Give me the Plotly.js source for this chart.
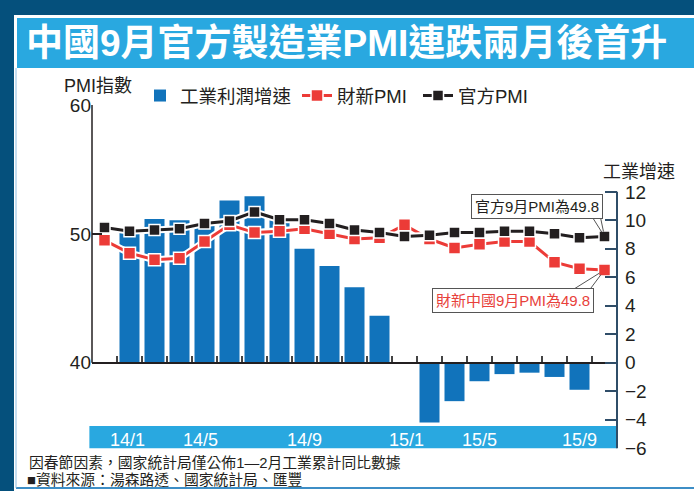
<!DOCTYPE html>
<html><head><meta charset="utf-8">
<script src="https://cdn.plot.ly/plotly-3.0.1.min.js"></script>
<style>html,body{margin:0;padding:0;background:#05507c;}#chart{width:694px;height:491px;}</style>
</head><body><div id="chart"></div>
<script>
// ---- data ----
const months = ['14/1','14/2','14/3','14/4','14/5','14/6','14/7','14/8','14/9','14/10','14/11','14/12',
                '15/1','15/2','15/3','15/4','15/5','15/6','15/7','15/8','15/9'];
const officialPMI = [50.5,50.2,50.3,50.4,50.8,51.0,51.7,51.1,51.1,50.8,50.3,50.1,
                     49.8,49.9,50.1,50.1,50.2,50.2,50.0,49.7,49.8];
const caixinPMI   = [49.5,48.5,48.0,48.1,49.4,50.7,50.1,50.2,50.4,50.0,49.6,49.7,
                     50.7,49.6,48.9,49.2,49.4,49.4,47.8,47.3,47.2];
const profitMonths = ['14/2','14/3','14/4','14/5','14/6','14/7','14/8','14/9','14/10','14/11','14/12',
                      '15/2','15/3','15/4','15/5','15/6','15/7','15/8'];
const profitGrowth = [9.4,10.1,10.0,9.8,11.4,11.7,10.0,8.0,6.8,5.3,3.3,
                      -4.2,-2.7,-1.3,-0.8,-0.7,-1.0,-1.9];
const tickLabels = ['14/1','14/5','14/9','15/1','15/5','15/9'];
const rightTicks = [-6,-4,-2,0,2,4,6,8,10,12];
const leftTicks = [40,50,60];

// ---- layout geometry ----
const L=92, R=617, T=105, B=449;
const pxX = x => (x-L)/(R-L);
const pxY = y => (B-y)/(B-T);
const tickLabelPos = [0.92,3.84,8,12.08,15,19];
const idx = months.map((m,i)=>i);
const barX = profitMonths.map(m=>months.indexOf(m));
const bounds = months.slice(0,-1).map((m,i)=>i+0.5);
const yR = [-6.06, 18.1];
const base = -yR[0]/(yR[1]-yR[0]);
const y2R = [40 - base*20/(1-base), 60];
const last = months.length-1;

const FONT = 'Liberation Sans, Arial, Noto Sans CJK TC, sans-serif';
const INK = '#231f20';
const RED = '#ec3b37';
const BLUE = '#1173bb';
const CYAN = '#29a8e0';

const traces = [
  {type:'bar', x:barX, y:profitGrowth, xaxis:'x', yaxis:'y', name:'工業利潤增速', legend:'legend',
   marker:{color:BLUE}, width:0.8, hoverinfo:'skip'},
  {type:'scatter', mode:'lines', x:idx, y:caixinPMI, xaxis:'x', yaxis:'y2', showlegend:false,
   line:{color:'white', width:7}, hoverinfo:'skip'},
  {type:'scatter', mode:'lines+markers', x:idx, y:caixinPMI, xaxis:'x', yaxis:'y2', name:'財新PMI',
   legend:'legend2',
   line:{color:RED, width:3}, marker:{symbol:'square', size:12, color:RED, line:{color:'white', width:1.5}}},
  {type:'scatter', mode:'lines', x:idx, y:officialPMI, xaxis:'x', yaxis:'y2', showlegend:false,
   line:{color:'white', width:7}, hoverinfo:'skip'},
  {type:'scatter', mode:'lines+markers', x:idx, y:officialPMI, xaxis:'x', yaxis:'y2', name:'官方PMI',
   legend:'legend3',
   line:{color:INK, width:3}, marker:{symbol:'square', size:11, color:INK, line:{color:'white', width:1.5}}},
  {type:'scatter', mode:'markers', x:[], y:[], xaxis:'x2', yaxis:'y', showlegend:false}
];

const shapes = [
  {type:'rect', xref:'paper', yref:'paper', x0:pxX(14), x1:pxX(700), y0:pxY(500), y1:pxY(15),
   fillcolor:'white', line:{width:0}, layer:'below'},
  {type:'rect', xref:'paper', yref:'paper', x0:pxX(17), x1:pxX(700), y0:pxY(68), y1:pxY(18),
   fillcolor:CYAN, line:{width:0}, layer:'below'},
  {type:'line', xref:'paper', yref:'paper', x0:pxX(16), x1:pxX(700), y0:pxY(488), y1:pxY(488),
   line:{color:'#3d8ec6', width:2}, layer:'below'},
  {type:'line', xref:'paper', yref:'paper', x0:pxX(16), x1:pxX(16), y0:pxY(68), y1:pxY(488),
   line:{color:'#8dbde2', width:1}, layer:'below'},
  {type:'rect', xref:'paper', yref:'y', x0:-0.005, x1:1, y0:-6, y1:-4.45,
   fillcolor:CYAN, line:{width:0}, layer:'below'},
  {type:'line', xref:'paper', yref:'y2', x0:0, x1:0, y0:40, y1:60, line:{color:INK, width:1.5}},
  {type:'line', xref:'paper', yref:'y', x0:1, x1:1, y0:-6, y1:12, line:{color:'#2f4d68', width:2}}
];

const boxFont = {family:FONT, size:15, color:INK};
const annotations = [
  {xref:'paper', yref:'paper', x:pxX(62), y:pxY(86), xanchor:'left', yanchor:'middle', showarrow:false,
   text:'PMI指數', font:{family:FONT, size:18, color:INK}},
  {xref:'paper', yref:'paper', x:pxX(601), y:pxY(172), xanchor:'left', yanchor:'middle', showarrow:false,
   text:'工業增速', font:{family:FONT, size:18, color:INK}},
  {xref:'paper', yref:'paper', x:pxX(27), y:pxY(462), xanchor:'left', yanchor:'middle', showarrow:false,
   text:'因春節因素，國家統計局僅公佈1—2月工業累計同比數據', font:{family:FONT, size:14.8, color:INK}},
  {xref:'paper', yref:'paper', x:pxX(25), y:pxY(480), xanchor:'left', yanchor:'middle', showarrow:false,
   text:'■資料來源：湯森路透、國家統計局、匯豐', font:{family:FONT, size:14.8, color:INK}},
  // official callout
  {xref:'x', yref:'y2', x:last, y:officialPMI[last], showarrow:true, text:'', arrowhead:0, arrowwidth:1,
   arrowcolor:'#555', ax:-12, ay:-19, standoff:5},
  {xref:'x', yref:'y2', x:last, y:officialPMI[last], showarrow:true, text:'', arrowhead:0, arrowwidth:1,
   arrowcolor:'#555', ax:-4, ay:-19, standoff:5},
  {xref:'x', yref:'y2', x:last, y:officialPMI[last], showarrow:false, text:'官方9月PMI為49.8',
   xshift:-67.5, yshift:30, bgcolor:'white', bordercolor:'#555', borderwidth:1, borderpad:3, font:boxFont},
  // caixin callout
  {xref:'x', yref:'y2', x:last, y:caixinPMI[last], showarrow:true, text:'', arrowhead:0, arrowwidth:1,
   arrowcolor:'#555', ax:-32, ay:20, standoff:6},
  {xref:'x', yref:'y2', x:last, y:caixinPMI[last], showarrow:true, text:'', arrowhead:0, arrowwidth:1,
   arrowcolor:'#555', ax:-15, ay:20, standoff:6},
  {xref:'x', yref:'y2', x:last, y:caixinPMI[last], showarrow:false, text:'財新中國9月PMI為49.8',
   xshift:-91.5, yshift:-30.5, bgcolor:'white', bordercolor:'#555', borderwidth:1, borderpad:3,
   font:{family:FONT, size:15, color:'#e8413b'}}
];

const legendBase = {orientation:'h', y:pxY(96), xanchor:'left', yanchor:'middle',
                    bgcolor:'rgba(0,0,0,0)', font:{family:FONT, size:18.5, color:INK}};

const layout = {
  width:694, height:491,
  margin:{l:L, r:694-R, t:T, b:491-B, pad:0},
  paper_bgcolor:'#05507c', plot_bgcolor:'rgba(0,0,0,0)',
  font:{family:FONT, color:INK},
  title:{text:'中國9月官方製造業PMI連跌兩月後首升', xref:'container', yref:'container',
         x:26/694, xanchor:'left', y:1-43/491, yanchor:'middle',
         font:{family:FONT, size:37, color:'white', weight:'bold'}},
  showlegend:true,
  legend: Object.assign({}, legendBase, {x:pxX(140)}),
  legend2: Object.assign({}, legendBase, {x:pxX(297)}),
  legend3: Object.assign({}, legendBase, {x:pxX(418)}),
  bargap:0.2,
  xaxis:{range:[-0.5,20.5], anchor:'free', position:base, showline:true, linecolor:INK, linewidth:2,
         ticks:'inside', tickvals:bounds, ticklen:6, tickwidth:1.5, tickcolor:'#444',
         showticklabels:false, showgrid:false, zeroline:false, fixedrange:true},
  xaxis2:{overlaying:'x', range:[-0.5,20.5], anchor:'free', position:pxY(427), side:'bottom',
          tickmode:'array', tickvals:tickLabelPos, ticktext:tickLabels, ticks:'', showline:false,
          showgrid:false, zeroline:false,
          tickfont:{family:FONT, size:18, color:'white'}},
  yaxis:{side:'right', anchor:'x', range:yR, tickmode:'array', tickvals:rightTicks, ticks:'inside',
         ticklen:12, tickwidth:2, tickcolor:'#2f4d68', showline:false, showgrid:false, zeroline:false,
         ticklabelstandoff:7, tickfont:{family:FONT, size:19, color:INK}},
  yaxis2:{overlaying:'y', side:'left', anchor:'x', range:y2R, tickmode:'array', tickvals:leftTicks,
          ticks:'inside', ticklen:10, tickwidth:1.5, tickcolor:INK, showline:false, showgrid:false,
          zeroline:false, tickfont:{family:FONT, size:19, color:INK}},
  shapes:shapes, annotations:annotations
};

Plotly.newPlot('chart', traces, layout, {displayModeBar:false, staticPlot:true});
</script></body></html>
